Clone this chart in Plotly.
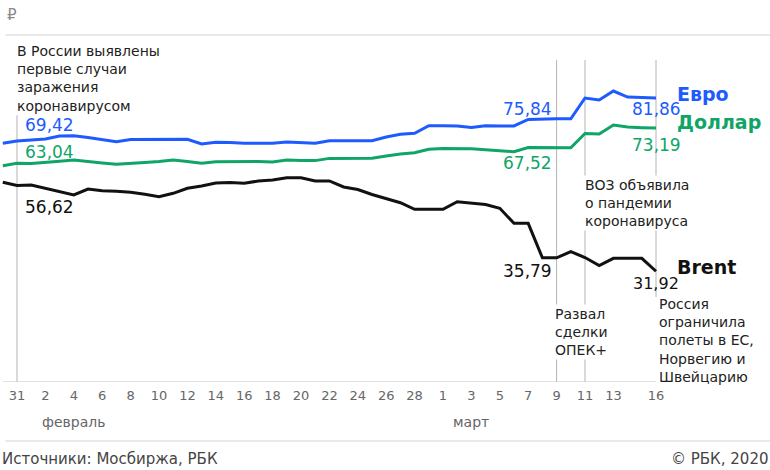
import pandas as pd
import plotly.graph_objects as go

# daily values, 30 Jan – 16 Mar 2020
dates = pd.date_range("2020-01-30", "2020-03-16", freq="D")

euro = [
    68.79, 69.42, 69.74, 70.03, 70.89, 70.95, 70.46, 69.88, 69.25, 69.88,
    69.94, 69.94, 69.94, 69.94, 68.59, 69.08, 69.02, 68.79, 68.79, 68.79,
    69.16, 68.96, 68.79, 69.51, 69.54, 69.54, 69.54, 70.61, 71.38, 71.67,
    73.86, 73.86, 73.78, 73.34, 73.83, 73.78, 73.78, 75.65, 75.84, 75.84,
    75.84, 81.84, 81.27, 83.86, 82.13, 81.93, 81.86,
]
dollar = [
    62.33, 63.04, 62.97, 63.23, 63.60, 63.98, 63.46, 63.11, 62.74, 63.11,
    63.29, 63.57, 63.98, 63.54, 63.03, 63.49, 63.54, 63.69, 63.57, 63.40,
    63.98, 63.86, 63.80, 64.44, 64.47, 64.47, 64.47, 65.13, 65.71, 66.05,
    67.09, 67.29, 67.35, 67.20, 66.95, 66.63, 66.37, 67.55, 67.52, 67.52,
    67.52, 71.61, 71.47, 74.06, 73.49, 73.30, 73.19,
]
brent = [
    57.55, 56.62, 56.77, 55.76, 54.76, 53.89, 55.62, 55.13, 54.96, 54.67,
    54.09, 53.40, 54.38, 55.82, 56.48, 57.35, 57.49, 57.26, 57.93, 58.21,
    58.88, 58.88, 57.93, 57.93, 56.20, 55.48, 54.03, 52.74, 51.67, 49.77,
    49.77, 49.77, 51.96, 51.64, 51.15, 50.06, 45.73, 45.73, 35.79, 35.79,
    37.55, 35.88, 33.57, 35.65, 35.65, 35.65, 31.92,
]

tick_dates = ["2020-01-31", "2020-02-02", "2020-02-04", "2020-02-06", "2020-02-08",
              "2020-02-10", "2020-02-12", "2020-02-14", "2020-02-16", "2020-02-18",
              "2020-02-20", "2020-02-22", "2020-02-24", "2020-02-26", "2020-02-28",
              "2020-03-01", "2020-03-03", "2020-03-05", "2020-03-07", "2020-03-09",
              "2020-03-11", "2020-03-13", "2020-03-16"]
tick_text = ["31", "2", "4", "6", "8", "10", "12", "14", "16", "18", "20", "22",
             "24", "26", "28", "1", "3", "5", "7", "9", "11", "13", "16"]

BLUE = "#1e5bff"
GREEN = "#0fa566"
BLACK = "#111111"
FONT = "DejaVu Sans"

s_euro = pd.Series(euro, index=dates)
s_dollar = pd.Series(dollar, index=dates)
s_brent = pd.Series(brent, index=dates)

start, d9, d11, end = (pd.Timestamp(d) for d in
                       ["2020-01-31", "2020-03-09", "2020-03-11", "2020-03-16"])

# x range: 14.2 px per day, 31 Jan sits 17 px from the left edge
px_day = 14.2
x0 = start - pd.Timedelta(days=17 / px_day)
x1 = x0 + pd.Timedelta(days=770 / px_day)

fig = go.Figure()
for s, color in [(s_brent, BLACK), (s_dollar, GREEN), (s_euro, BLUE)]:
    fig.add_trace(go.Scatter(
        x=s.index, y=s.values, mode="lines",
        line=dict(color=color, width=3),
        showlegend=False, hoverinfo="skip",
    ))


def vline(x, y0, y1):
    fig.add_shape(type="line", xref="x", yref="y", x0=x, x1=x, y0=y0, y1=y1,
                  line=dict(color="#b4b4b4", width=1), layer="below")


# event lines (y in data units, 3.47 px per unit)
vline(start, 0, 76.9)
vline(d9, 0, 92.8)
vline(d11, 0, 92.8)
vline(end, 24.5, 92.8)

# axis line up to the last date, top rule, footer rule
fig.add_shape(type="line", xref="x", yref="y", x0=dates[0], x1=end, y0=0, y1=0,
              line=dict(color="#c4c4c4", width=1), layer="below")
fig.add_shape(type="line", xref="paper", yref="paper", x0=0.007, x1=1, y0=1, y1=1,
              line=dict(color="#d4d4d4", width=1))
fig.add_shape(type="line", xref="paper", yref="paper", x0=0.007, x1=1, y0=-0.17, y1=-0.17,
              line=dict(color="#d4d4d4", width=1))


def note(text, x, y, color="#222222", size=14, xanchor="left", yanchor="middle",
         xshift=0, yshift=0, bold=False, bg=None, xref="x", yref="y"):
    fig.add_annotation(
        x=x, y=y, xref=xref, yref=yref, text=text, showarrow=False,
        xanchor=xanchor, yanchor=yanchor, align="left",
        xshift=xshift, yshift=yshift,
        font=dict(family=FONT, size=size, color=color,
                  weight="bold" if bold else "normal"),
        bgcolor=bg, borderpad=1,
    )


fmt = lambda v: f"{v:.2f}".replace(".", ",")

# value labels
note(fmt(s_euro[start]), start, s_euro[start], BLUE, 17, xshift=6, yshift=16)
note(fmt(s_dollar[start]), start, s_dollar[start], GREEN, 17, xshift=6, yshift=11)
note(fmt(s_brent[start]), start, s_brent[start], BLACK, 17, xshift=6, yshift=-21)
note(fmt(s_euro[d9]), d9, s_euro[d9], BLUE, 17, xanchor="right", xshift=-3, yshift=10)
note(fmt(s_dollar[d9]), d9, s_dollar[d9], GREEN, 17, xanchor="right", xshift=-3, yshift=-15)
note(fmt(s_brent[d9]), d9, s_brent[d9], BLACK, 17, xanchor="right", xshift=-3, yshift=-13)
note(fmt(s_euro[end]), end, s_euro[end], BLUE, 17, xanchor="center", yshift=-11)
note(fmt(s_dollar[end]), end, s_dollar[end], GREEN, 17, xanchor="center", yshift=-17)
note(fmt(s_brent[end]), end, s_brent[end], BLACK, 16, xanchor="center", yshift=-12)

# series names
note("Евро", end, s_euro[end], BLUE, 19, xshift=19, yshift=4, bold=True)
note("Доллар", end, s_dollar[end], GREEN, 19, xshift=19, yshift=6, bold=True)
note("Brent", end, s_brent[end], BLACK, 19, xshift=19, yshift=4, bold=True)

# event notes
note("В России выявлены<br>первые случаи<br>заражения<br>коронавирусом",
     start, 87.6, xshift=-2)
note("ВОЗ объявила<br>о пандемии<br>коронавируса", d11, 51.6, xshift=-2, bg="white")
note("Развал<br>сделки<br>ОПЕК+", d9, 14.4, xshift=-4, bg="white")
note("Россия<br>ограничила<br>полеты в ЕС,<br>Норвегию и<br>Швейцарию", end, 11.9, xshift=1)

# months, unit and footer
note("февраль", pd.Timestamp("2020-02-04"), -0.115, "#666666", 14,
     xanchor="center", yref="paper")
note("март", pd.Timestamp("2020-03-03"), -0.115, "#666666", 14,
     xanchor="center", yref="paper")
note("₽", 0.006, 1.058, "#8a8a8a", 15, xref="paper", yref="paper")
note("Источники: Мосбиржа, РБК", 0.0, -0.222, "#444444", 15,
     xref="paper", yref="paper")
note("© РБК, 2020", 1.0, -0.222, "#444444", 15, xanchor="right",
     xref="paper", yref="paper")

fig.update_layout(
    width=770, height=470,
    margin=dict(l=0, r=0, t=35, b=88),
    paper_bgcolor="white", plot_bgcolor="white",
    font=dict(family=FONT),
    xaxis=dict(
        type="date", range=[x0, x1], showgrid=False, zeroline=False,
        showline=False, ticks="",
        tickvals=[pd.Timestamp(d) for d in tick_dates], ticktext=tick_text,
        tickfont=dict(family=FONT, size=13, color="#666666"),
        ticklabelstandoff=4,
    ),
    yaxis=dict(range=[0, 100], visible=False, fixedrange=True),
)

# page body has a default 8px margin; drop it so the chart fills the window
fig.write_html("out.html", config={"displayModeBar": False},
               post_script="document.body.style.margin='0';")
